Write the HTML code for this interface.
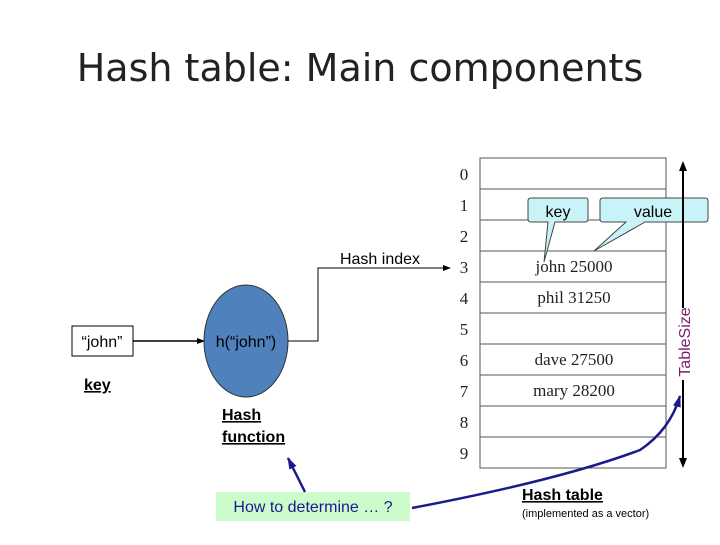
<!DOCTYPE html>
<html><head><style>
body{margin:0;width:720px;height:540px;background:#fff;overflow:hidden;font-family:"Liberation Sans",sans-serif;}
</style></head><body>
<svg width="720" height="540" xmlns="http://www.w3.org/2000/svg">
<defs>
<marker id="a" markerWidth="8" markerHeight="8" refX="7" refY="4" orient="auto" markerUnits="userSpaceOnUse"><path d="M0,1 L8,4 L0,7z" fill="#000"/></marker>
<marker id="b" markerWidth="12" markerHeight="10" refX="11" refY="5" orient="auto" markerUnits="userSpaceOnUse"><path d="M0,1 L12,5 L0,9z" fill="#1a1a8c"/></marker>
</defs>
<text x="360" y="81" font-size="38" text-anchor="middle" font-family="DejaVu Sans, Liberation Sans, sans-serif" fill="#222">Hash table: Main components</text>
<rect x="480" y="158" width="186" height="310" fill="#fff" stroke="#555"/>
<g stroke="#555">
<line x1="480" y1="189" x2="666" y2="189"/><line x1="480" y1="220" x2="666" y2="220"/><line x1="480" y1="251" x2="666" y2="251"/><line x1="480" y1="282" x2="666" y2="282"/><line x1="480" y1="313" x2="666" y2="313"/><line x1="480" y1="344" x2="666" y2="344"/><line x1="480" y1="375" x2="666" y2="375"/><line x1="480" y1="406" x2="666" y2="406"/><line x1="480" y1="437" x2="666" y2="437"/>
</g>
<g font-family="Liberation Serif,serif" font-size="17" fill="#222" text-anchor="middle">
<text x="464" y="180">0</text><text x="464" y="211">1</text><text x="464" y="242">2</text><text x="464" y="273">3</text><text x="464" y="304">4</text><text x="464" y="335">5</text><text x="464" y="366">6</text><text x="464" y="397">7</text><text x="464" y="428">8</text><text x="464" y="459">9</text>
<text x="574" y="272">john 25000</text><text x="574" y="303">phil 31250</text><text x="574" y="365">dave 27500</text><text x="574" y="396">mary 28200</text>
</g>
<path d="M531,198 H586 Q588,198 588,201 V219 Q588,222 585,222 H555 L544,262 L548,222 H531 Q528,222 528,219 V201 Q528,198 531,198Z" fill="#c8f4f8" stroke="#444"/>
<text x="558" y="217" font-size="16" text-anchor="middle">key</text>
<path d="M603,198 H705 Q708,198 708,201 V219 Q708,222 705,222 H645 L594,251 L626,222 H603 Q600,222 600,219 V201 Q600,198 603,198Z" fill="#c8f4f8" stroke="#444"/>
<text x="653" y="217" font-size="16" text-anchor="middle">value</text>
<line x1="683" y1="170" x2="683" y2="308" stroke="#000" stroke-width="2"/>
<line x1="683" y1="380" x2="683" y2="462" stroke="#000" stroke-width="2"/>
<path d="M683,161 L679,171 L687,171z M683,468 L679,458 L687,458z" fill="#000"/>
<text transform="translate(690,342) rotate(-90)" font-size="16" text-anchor="middle" fill="#7a1a6a">TableSize</text>
<rect x="72" y="326" width="61" height="30" fill="#fff" stroke="#000"/>
<text x="102" y="347" font-size="16" text-anchor="middle">“john”</text>
<line x1="133" y1="341" x2="204" y2="341" stroke="#000" stroke-width="1.5" marker-end="url(#a)"/>
<ellipse cx="246" cy="341" rx="42" ry="56" fill="#4f81bd" stroke="#333"/>
<text x="246" y="347" font-size="16" text-anchor="middle">h(“john”)</text>
<polyline points="288,341 318,341 318,268 450,268" fill="none" stroke="#000" marker-end="url(#a)"/>
<text x="380" y="264" font-size="16" text-anchor="middle">Hash index</text>
<text x="84" y="390" font-size="16" font-weight="bold" text-decoration="underline">key</text>
<text x="222" y="420" font-size="16" font-weight="bold" text-decoration="underline">Hash</text>
<text x="222" y="442" font-size="16" font-weight="bold" text-decoration="underline">function</text>
<rect x="216" y="492" width="194" height="29" fill="#ccfccc"/>
<text x="313" y="512" font-size="16" text-anchor="middle" fill="#1a1a8c">How to determine … ?</text>
<line x1="305" y1="492" x2="288" y2="458" stroke="#1a1a8c" stroke-width="2.5" marker-end="url(#b)"/>
<path d="M412,508 Q560,480 640,450 Q670,430 680,396" fill="none" stroke="#1a1a8c" stroke-width="2.5" marker-end="url(#b)"/>
<text x="522" y="500" font-size="16" font-weight="bold" text-decoration="underline">Hash table</text>
<text x="522" y="517" font-size="11">(implemented as a vector)</text>
</svg>
</body></html>
